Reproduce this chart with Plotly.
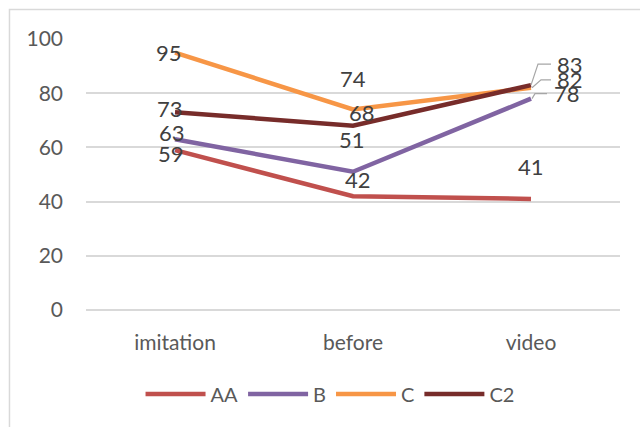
import plotly.graph_objects as go

# Categories and series values
categories = ["imitation", "before", "video"]
series_names = ["AA", "B", "C", "C2"]
aa_values = [59, 42, 41]
b_values = [63, 51, 78]
c_values = [95, 74, 82]
c2_values = [73, 68, 83]
y_ticks = [0, 20, 40, 60, 80, 100]

series_values = [aa_values, b_values, c_values, c2_values]
colors = ["#C0504D", "#8064A2", "#F79646", "#772C2A"]

FONT = "Lato, Liberation Sans, sans-serif"
TEXT_DARK = "#404040"
TEXT_AXIS = "#595959"
GRID = "#D9D9D9"

fig = go.Figure()
for name, vals, col in zip(series_names, series_values, colors):
    fig.add_trace(go.Scatter(
        x=categories, y=vals, name=name, mode="lines",
        line=dict(color=col, width=4.5), hoverinfo="x+y+name",
    ))

# Data-label offsets in pixels (dx, dy) for each series and category
label_offsets = {
    "AA": [(-4, -3), (5, 17), (0, 32)],
    "B": [(-3, 7), (-1, 32), (None, None)],
    "C": [(-6, 0), (0, 31), (None, None)],
    "C2": [(-5, 4), (9, 13), (None, None)],
}
# Labels on the right side with leader lines: (dx, dy) of label centre
leader_labels = {
    "C2": (39, 21),
    "C": (39, 8),
    "B": (36, 5),
}
leader_paths = {
    "C2": "M0,0 L7,21 L20,21",
    "C": "M1,0 L10,8 L20,8",
    "B": "M1,0 L4,5 L16,5",
}

for name, vals in zip(series_names, series_values):
    for i, (cat, v) in enumerate(zip(categories, vals)):
        dx, dy = label_offsets[name][i]
        if dx is None:
            dx, dy = leader_labels[name]
            fig.add_shape(
                type="path", xref="x", yref="y",
                xsizemode="pixel", ysizemode="pixel",
                xanchor=cat, yanchor=v,
                path=leader_paths[name],
                line=dict(color="#A6A6A6", width=1.2),
            )
        fig.add_annotation(
            x=cat, y=v, text=str(v), showarrow=False,
            xshift=dx, yshift=dy,
            font=dict(family=FONT, size=22, color=TEXT_DARK),
        )

# Light frame around the chart
fig.add_shape(
    type="rect", xref="paper", yref="paper",
    x0=-0.1433, x1=1.5, y0=-0.6, y1=1.109,
    line=dict(color=GRID, width=1.5), fillcolor="rgba(0,0,0,0)", layer="below",
)

fig.update_layout(
    width=640, height=427,
    margin=dict(l=86, r=20, t=39, b=117),
    paper_bgcolor="white", plot_bgcolor="white",
    font=dict(family=FONT, size=20, color=TEXT_AXIS),
    showlegend=True,
    legend=dict(
        orientation="h", x=0.457, xanchor="center", y=-0.31, yanchor="middle",
        font=dict(family=FONT, size=20, color=TEXT_AXIS),
        itemwidth=60, tracegroupgap=0,
    ),
    xaxis=dict(
        type="category", range=[-0.5, 2.5], showgrid=False, zeroline=False,
        showline=False, ticks="", ticklabelstandoff=18,
        tickfont=dict(family=FONT, size=21, color=TEXT_AXIS),
    ),
    yaxis=dict(
        range=[0, 100], tickvals=y_ticks, showgrid=True, gridcolor=GRID,
        gridwidth=1.5, zeroline=True, zerolinecolor=GRID, zerolinewidth=1.5,
        showline=False, ticks="", ticklabelstandoff=22,
        tickfont=dict(family=FONT, size=21, color=TEXT_AXIS),
    ),
)

fig.write_html("out.html")
